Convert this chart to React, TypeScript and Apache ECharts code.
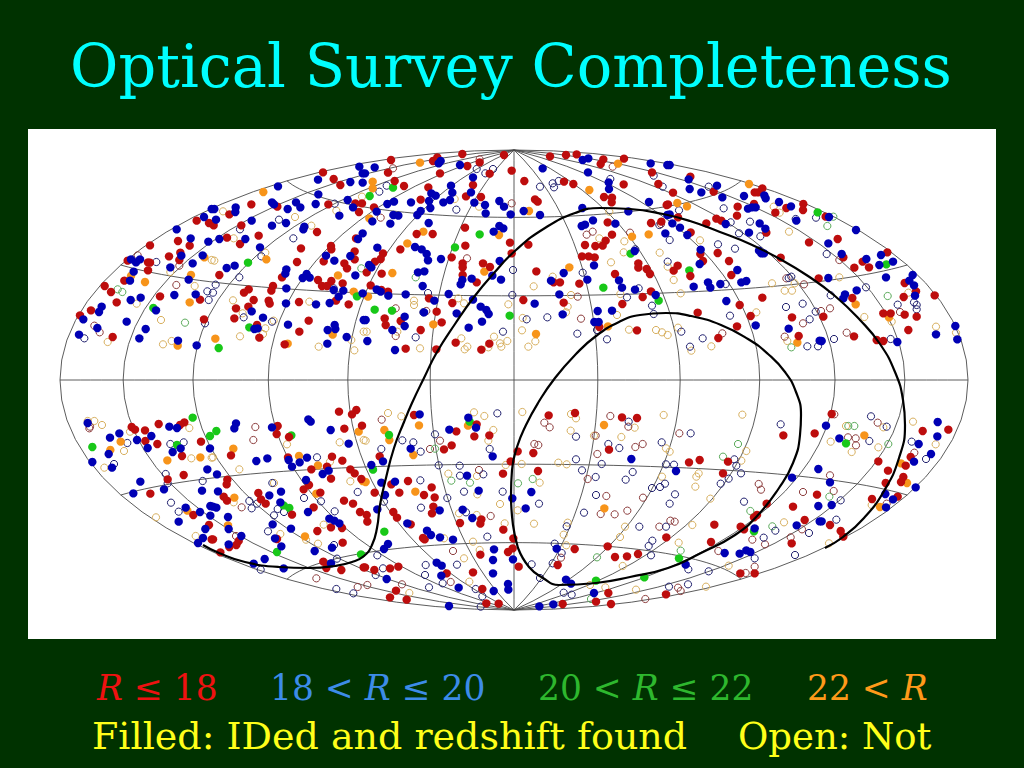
import React, { useEffect, useRef } from "react";
import * as echarts from "echarts";

type Pt = [number, number];
const at = (c: number, r: number, p: number[][]): Pt[] =>
  p.map(([x, y]) => [60 + c * 152 + x / 3, (r === 0 ? 150 : 405) + y / 3]);

const redFilled: Pt[] = [
  ...at(0,0,[[410,212],[447,219],[270,286],[354,273],[389,287],[327,319],[361,308],[358,330],[203,332],[264,337],[270,338],[264,361],[193,392],[134,408],[153,426],[170,457],[300,439],[420,449],[93,481],[60,496],[158,561],[432,508]]),
  ...at(1,0,[[333,67],[365,87],[385,105],[118,163],[196,170],[52,193],[88,226],[5,226],[45,263],[84,282],[140,257],[349,163],[430,160],[450,160],[441,186],[315,246],[267,295],[357,288],[358,298],[335,334],[428,304],[428,328],[397,340],[405,355],[255,336],[210,382],[22,375],[183,408],[178,422],[110,418],[96,428],[125,450],[170,452],[173,461],[72,475],[67,505],[109,470],[261,456],[290,512],[262,545],[318,390],[330,408],[345,408],[358,393],[392,400],[372,452],[410,463],[135,525],[142,563],[218,583],[432,265]]),
  ...at(2,0,[[81,30],[295,12],[420,15],[207,33],[220,22],[347,37],[72,68],[228,70],[310,48],[92,93],[120,108],[193,112],[327,105],[377,71],[443,62],[306,139],[351,141],[170,149],[30,172],[303,233],[158,252],[206,252],[438,278],[304,287],[109,298],[57,310],[50,327],[33,335],[263,322],[296,340],[296,352],[443,310],[357,340],[378,351],[53,371],[8,367],[296,375],[338,397],[20,406],[72,425],[195,445],[265,459],[218,485],[62,505],[65,525],[110,513],[170,540],[233,517],[275,578],[125,596],[217,598],[376,581],[352,599],[52,420]]),
  ...at(3,0,[[102,19],[150,15],[182,13],[262,28],[254,42],[324,26],[408,67],[427,102],[25,93],[144,95],[172,102],[323,103],[264,141],[288,143],[287,157],[57,148],[65,155],[452,165],[405,219],[436,215],[275,217],[37,284],[288,254],[269,272],[260,287],[238,288],[207,285],[198,319],[218,319],[236,322],[367,340],[367,353],[392,357],[402,372],[61,364],[297,372],[132,397],[113,397],[190,401],[380,441],[405,424],[319,462],[143,458],[22,450],[363,541],[250,531]]),
  ...at(4,0,[[67,80],[15,128],[0,163],[137,125],[260,127],[270,127],[283,115],[258,162],[209,170],[207,197],[322,188],[355,174],[406,162],[405,180],[30,202],[115,220],[145,206],[160,212],[68,247],[295,248],[423,277],[97,312],[149,309],[183,333],[105,333],[338,323],[29,347],[17,362],[67,378],[190,375],[452,385],[283,443],[215,465],[248,498],[89,488],[207,529],[372,502],[392,558],[151,564]]),
  ...at(5,0,[[17,200],[53,267],[202,307],[70,322],[128,335],[103,353],[147,352],[254,399],[288,424],[344,436],[251,441],[97,444],[190,490],[212,490],[254,494],[290,500],[10,500],[265,540],[102,559],[170,570],[190,573]]),
  ...at(0,1,[[215,66],[225,74],[296,57],[255,76],[256,108],[292,117],[373,52],[360,60],[423,110],[366,153],[371,210],[323,223],[271,266],[400,330],[447,360],[455,403]]),
  ...at(1,1,[[381,20],[433,15],[420,28],[197,63],[194,87],[231,96],[397,71],[450,62],[57,151],[228,157],[360,155],[391,167],[298,193],[345,185],[415,193],[428,205],[448,222],[357,221],[46,224],[44,238],[35,275],[45,287],[139,264],[147,283],[161,296],[275,253],[291,240],[325,263],[396,287],[423,296],[444,321],[305,307],[240,329],[357,367],[390,369],[316,378],[392,413],[80,408],[73,420],[52,426],[25,442],[3,403],[195,402],[334,470],[343,489],[388,495],[455,487]]),
  ...at(2,1,[[150,30],[338,58],[277,79],[331,94],[376,91],[263,121],[240,133],[47,154],[440,169],[417,206],[132,228],[82,238],[203,247],[32,263],[106,263],[180,270],[212,277],[208,305],[204,325],[88,321],[99,338],[8,330],[10,350],[352,343],[349,356],[288,354],[418,374],[177,399],[182,403],[448,400],[432,441],[446,430],[349,449],[327,502],[78,490],[103,485],[31,495],[3,487],[248,505],[96,557],[78,577],[128,584],[355,552],[367,595],[404,596],[140,358]]),
  ...at(3,1,[[98,31],[177,24],[318,37],[363,39],[5,139],[52,144],[279,134],[66,198],[176,432],[275,424],[297,456],[333,454],[366,447],[125,480],[8,485],[277,564],[240,590],[285,597],[140,597],[450,568],[451,397]]),
  ...at(4,1,[[346,91],[440,85],[63,172],[95,165],[180,170],[165,205],[447,269],[296,296],[375,305],[410,345],[267,330],[258,337],[139,359],[218,365],[228,373],[371,415],[129,411],[217,505],[260,505]]),
  ...at(5,1,[[35,27],[308,78],[385,74],[272,156],[257,182],[175,169],[204,197],[197,234],[250,216],[243,231],[233,275],[156,282],[30,360],[62,378],[70,395]]),
];

const blueFilled: Pt[] = [
  ...at(0,0,[[455,177],[432,201],[350,238],[392,265],[445,275],[364,317],[428,316],[213,328],[228,337],[240,328],[398,340],[331,352],[221,365],[210,392],[386,389],[343,435],[407,433],[212,450],[242,443],[125,470],[117,486],[70,508],[288,481],[200,515],[257,537],[238,565],[57,554],[354,572],[410,586],[112,534]]),
  ...at(1,0,[[442,50],[452,70],[318,89],[198,109],[415,96],[452,98],[319,133],[180,157],[186,163],[227,177],[252,157],[265,172],[311,162],[407,150],[423,172],[382,197],[7,177],[71,172],[70,186],[12,209],[119,212],[180,227],[222,219],[277,230],[274,238],[22,267],[100,267],[144,292],[452,250],[438,267],[342,317],[367,332],[415,318],[44,354],[68,347],[223,358],[220,371],[272,384],[284,372],[293,383],[430,376],[223,415],[222,460],[312,463],[353,459],[365,420],[380,440],[394,422],[452,430],[119,484],[153,503],[137,535],[127,537],[228,524],[347,540],[368,525],[370,537],[404,561],[346,581],[455,510]]),
  ...at(2,0,[[32,52],[230,33],[224,40],[288,45],[3,70],[327,82],[261,107],[265,128],[202,130],[215,137],[321,127],[195,153],[70,162],[90,155],[141,157],[238,157],[258,150],[331,158],[199,174],[363,165],[406,153],[420,170],[365,190],[440,193],[38,185],[88,195],[103,197],[160,195],[170,183],[79,221],[194,219],[25,214],[389,245],[406,228],[418,235],[40,293],[153,291],[173,298],[188,312],[192,331],[231,327],[407,333],[15,345],[22,352],[162,367],[181,364],[385,377],[411,389],[295,390],[290,403],[323,386],[176,408],[38,418],[50,425],[125,433],[73,437],[254,432],[211,452],[327,449],[350,470],[367,480],[374,492],[278,490],[354,515],[5,510],[122,500],[85,540],[122,528],[314,533],[10,573],[93,600],[180,487]]),
  ...at(3,0,[[200,30],[217,25],[404,40],[80,55],[216,67],[454,45],[278,97],[279,117],[399,156],[454,195],[199,174],[337,184],[72,195],[23,183],[231,211],[207,224],[197,228],[298,221],[448,250],[356,303],[234,346],[143,369],[105,392],[214,389],[309,391],[318,413],[357,419],[130,433],[419,435],[56,461],[245,483],[288,482],[140,493],[235,516],[248,516]]),
  ...at(4,0,[[5,45],[62,88],[65,117],[100,127],[147,107],[163,142],[228,138],[289,136],[293,145],[333,156],[369,169],[240,176],[252,172],[263,172],[385,212],[5,193],[173,222],[13,220],[36,233],[58,255],[275,220],[292,236],[243,248],[273,302],[280,310],[288,310],[98,299],[95,342],[208,360],[77,410],[120,397],[127,413],[157,402],[220,397],[235,393],[175,453],[263,526],[362,536],[455,572]]),
  ...at(5,0,[[27,201],[108,240],[25,280],[65,312],[183,315],[139,327],[178,345],[219,335],[25,384],[198,382],[278,375],[268,392],[282,406],[285,437],[110,421],[75,433],[70,445],[406,528],[348,553],[412,568],[232,576],[5,573]]),
  ...at(0,1,[[83,54],[150,98],[178,85],[231,105],[274,93],[263,129],[328,65],[351,69],[97,171],[146,147],[156,188],[338,141],[362,130],[450,130],[442,193],[241,230],[220,265],[312,253],[426,257],[377,308],[420,321],[451,303],[451,332],[356,350],[436,372],[429,399],[414,414]]),
  ...at(1,1,[[72,55],[67,70],[289,43],[296,50],[180,67],[356,75],[410,116],[133,168],[166,160],[230,165],[240,185],[263,172],[285,158],[15,208],[332,207],[350,197],[282,225],[18,259],[172,271],[207,260],[13,308],[3,305],[288,321],[48,336],[352,341],[367,347],[382,355],[205,292],[182,358],[237,371],[50,372],[189,400],[88,393],[208,424],[50,418],[360,428],[308,438],[158,462],[125,476],[215,490],[357,475]]),
  ...at(2,1,[[167,28],[313,38],[256,74],[336,68],[140,131],[57,169],[22,180],[386,154],[52,233],[93,230],[309,212],[63,270],[344,257],[40,313],[227,316],[296,314],[325,339],[130,355],[189,377],[201,390],[228,397],[267,404],[390,433],[445,280],[387,465],[72,417],[60,432],[447,463],[218,473],[233,482],[387,505],[68,522],[232,512],[284,548],[432,537],[433,554],[389,558],[255,603]]),
  ...at(3,1,[[46,261],[29,310],[122,431],[346,162],[150,524],[165,536],[234,564],[112,598],[70,604]]),
  ...at(4,1,[[24,198],[372,218],[451,192],[451,303],[455,349],[386,361],[260,370],[170,444],[215,446],[235,436],[247,441],[53,479]]),
  ...at(5,1,[[18,62],[353,51],[352,94],[296,117],[58,100],[333,147],[282,170],[287,247],[196,267],[219,283],[30,232],[35,300],[5,349],[198,307]]),
];

const greenFilled: Pt[] = [
  ...at(0,0,[[280,474]]),
  ...at(1,0,[[108,338],[435,439],[112,532],[20,594]]),
  ...at(2,0,[[17,138],[87,113],[347,253],[273,292],[32,479],[84,482],[437,497]]),
  ...at(3,0,[[344,311],[262,413],[428,452]]),
  ...at(4,0,[[64,361],[449,187]]),
  ...at(5,0,[[199,343]]),
  ...at(0,1,[[398,38],[97,126],[351,120],[450,93]]),
  ...at(1,1,[[13,78],[238,91],[215,301],[232,309],[195,441],[447,448]]),
  ...at(2,1,[[27,194],[317,50],[61,380],[75,90]]),
  ...at(3,1,[[240,527],[385,517]]),
  ...at(4,1,[[258,379],[33,460]]),
  ...at(5,1,[[78,115]]),
];

const orangeFilled: Pt[] = [
  ...at(0,0,[[433,322],[213,378],[255,396],[393,375],[389,457],[353,587]]),
  ...at(1,0,[[154,126],[163,328],[378,376],[425,425],[362,554],[227,581],[10,566]]),
  ...at(2,0,[[168,38],[26,95],[26,115],[16,205],[178,245],[130,280],[405,255],[85,369],[361,365],[208,523],[12,440]]),
  ...at(3,0,[[306,41],[220,120],[39,183],[398,253],[348,260],[160,352],[276,529],[60,552]]),
  ...at(4,0,[[243,102],[28,159],[57,169],[388,578]]),
  ...at(5,0,[[107,463],[207,502]]),
  ...at(0,1,[[182,110],[151,135],[322,166],[421,157],[382,317]]),
  ...at(1,1,[[64,131],[261,153],[318,181],[313,266],[67,278],[48,361],[279,394],[440,80],[452,228]]),
  ...at(2,1,[[165,61],[61,75],[76,105],[148,150],[312,62],[5,231],[154,260]]),
  ...at(3,1,[[264,60],[265,310]]),
  ...at(5,1,[[133,91],[243,175],[261,234],[180,306]]),
];

const redOpen: Pt[] = [
  ...at(0,0,[[233,316],[349,405],[103,527],[119,547],[358,347]]),
  ...at(2,0,[[87,55],[347,28],[443,160],[50,203],[309,325],[95,475],[187,483],[95,558]]),
  ...at(3,0,[[290,50],[212,254],[230,245],[342,248],[435,222],[185,440],[195,506]]),
  ...at(4,0,[[355,385],[405,520],[350,560],[163,550],[408,403]]),
  ...at(5,0,[[240,486],[30,475],[58,330],[80,548],[3,483]]),
  ...at(0,1,[[88,70],[90,65]]),
  ...at(1,1,[[130,66],[124,105],[89,307],[72,393],[313,520],[437,546]]),
  ...at(2,1,[[53,44],[228,107],[198,132],[345,195],[380,333],[267,438],[260,531],[10,540],[114,538]]),
  ...at(3,1,[[85,53],[101,67],[283,33],[337,65],[55,117],[67,120],[358,126],[380,117],[244,147],[215,222],[271,273],[381,278],[254,327],[296,328],[334,317],[430,365],[239,92],[135,458],[388,582]]),
  ...at(4,1,[[34,85],[272,237],[279,254],[405,261],[7,347],[20,350],[253,404],[291,418],[151,438],[260,485],[30,548],[368,397],[402,373],[38,558],[233,504]]),
  ...at(5,1,[[43,28],[108,121],[84,97],[107,100],[283,143],[30,211],[41,258],[200,296],[173,53]]),
];

const blueOpen: Pt[] = [
  ...at(0,0,[[289,336],[442,424],[446,450],[73,565],[435,520]]),
  ...at(1,0,[[368,161],[84,238],[201,209],[244,265],[148,319],[82,382],[11,404],[3,428],[95,502],[180,515],[365,415]]),
  ...at(2,0,[[338,57],[364,70],[387,57],[68,107],[46,125],[277,179],[192,429],[447,360],[445,435],[417,545],[155,562],[178,487]]),
  ...at(3,0,[[413,77],[283,87],[440,110],[110,100],[128,93],[114,112],[72,110],[430,225],[358,298],[455,335],[200,368],[368,415],[333,442],[408,467],[413,492],[32,508],[94,502],[184,551],[273,568],[243,540]]),
  ...at(4,0,[[122,110],[33,181],[167,175],[188,217],[213,250],[277,259],[246,215],[150,283],[201,296],[383,207],[444,203],[370,380],[362,384],[173,402],[5,270],[354,471],[404,461],[443,485],[425,508],[186,497],[40,545],[104,565],[66,590],[418,589],[450,589]]),
  ...at(5,0,[[20,312],[138,412],[32,436],[233,464],[282,457],[290,465],[290,478],[42,567],[212,567]]),
  ...at(0,1,[[202,114],[331,117],[371,112],[162,177],[317,207],[323,235],[333,293],[356,320],[428,228]]),
  ...at(1,1,[[315,157],[181,234],[276,279],[327,289],[112,288],[119,310],[135,296],[437,261],[197,312],[216,321],[186,331],[368,319],[168,379],[366,420],[375,461],[146,494],[373,552],[424,565]]),
  ...at(2,1,[[400,25],[115,106],[148,112],[213,88],[377,132],[52,132],[170,140],[224,181],[287,182],[288,212],[358,208],[169,226],[300,260],[416,260],[250,279],[171,308],[306,322],[370,395],[40,451],[57,490],[35,510],[185,480],[183,510],[279,479],[236,535],[195,547],[335,552],[355,574],[350,605],[60,290]]),
  ...at(3,1,[[338,50],[180,95],[277,117],[310,129],[437,112],[180,163],[198,196],[257,177],[239,216],[350,201],[329,224],[408,249],[432,246],[447,236],[450,178],[240,270],[69,296],[204,323],[152,364],[370,365],[116,416],[137,444],[409,407],[398,423],[405,451],[450,365],[110,475],[47,478],[72,519],[143,563],[167,569]]),
  ...at(4,1,[[68,85],[338,58],[199,163],[205,182],[219,205],[182,221],[158,236],[18,179],[21,268],[5,296],[228,290],[322,377],[287,398],[423,384],[260,460],[381,450],[61,493],[122,499],[60,538],[3,545]]),
  ...at(5,1,[[153,34],[200,65],[148,108],[275,110],[318,162],[62,286],[49,344]]),
];

const greenOpen: Pt[] = [
  ...at(0,0,[[173,418],[187,426],[375,518]]),
  ...at(1,0,[[448,355]]),
  ...at(2,0,[[155,382]]),
  ...at(4,0,[[370,592]]),
  ...at(5,0,[[22,228],[203,438],[40,200]]),
  ...at(2,1,[[213,131],[262,227],[318,233]]),
  ...at(3,1,[[50,222],[6,235],[243,457],[225,582]]),
  ...at(4,1,[[210,117],[165,155],[247,318],[313,364],[38,437]]),
  ...at(5,1,[[103,63],[205,117],[28,275],[85,63]]),
];

const tanOpen: Pt[] = [
  ...at(0,0,[[331,366],[404,408],[230,461],[303,510],[143,576],[309,583],[335,573],[455,330]]),
  ...at(1,0,[[33,184],[249,201],[298,227],[65,265],[7,332],[160,308],[63,451],[92,490],[292,455],[160,535],[84,559],[153,552],[185,512],[320,590],[427,601],[373,182],[450,140],[455,545],[418,570]]),
  ...at(2,0,[[272,147],[345,170],[150,452],[150,465],[283,445],[300,460],[433,463],[8,545],[100,545],[292,565],[390,560],[408,580],[430,573],[310,590],[302,598],[168,595],[373,592],[412,590]]),
  ...at(3,0,[[280,185],[250,265],[325,274],[323,307],[431,308],[285,337],[110,380],[53,409],[313,432],[165,435],[155,470],[150,487],[303,495],[20,504],[18,541],[58,574],[37,590],[339,539],[420,540],[438,547],[455,555],[455,350]]),
  ...at(4,0,[[363,245],[96,271],[317,170],[335,188],[17,390],[312,400],[350,422],[372,422],[380,400],[38,430],[265,487],[30,533],[130,589],[70,602],[358,573]]),
  ...at(5,0,[[58,382],[265,428],[133,501],[215,515],[348,530],[408,548]]),
  ...at(0,1,[[83,48],[103,48],[126,60],[210,80],[388,69],[192,138],[133,188],[394,160],[288,337],[407,393],[455,158]]),
  ...at(1,1,[[225,118],[82,193],[383,112],[354,170],[415,229],[186,234],[65,292],[335,359],[205,387],[318,416],[282,404],[455,105],[3,157]]),
  ...at(2,1,[[72,24],[112,34],[330,22],[361,33],[388,75],[373,107],[5,107],[253,206],[339,213],[340,268],[408,297],[285,325],[338,330],[422,355],[240,400],[327,410],[347,435],[300,460],[316,530],[136,564],[425,180]]),
  ...at(3,1,[[19,21],[165,27],[180,40],[356,68],[164,77],[234,92],[316,96],[450,130],[17,177],[127,173],[152,178],[438,215],[71,233],[5,316],[54,356],[155,353],[143,389],[327,365],[312,396],[151,421],[320,483],[268,547],[360,554],[443,30],[222,540]]),
  ...at(4,1,[[223,29],[235,138],[220,167],[92,205],[85,215],[82,245],[127,281],[5,140],[73,360],[32,413],[348,352],[182,482],[114,545]]),
  ...at(5,1,[[279,50],[78,63],[190,67],[32,110],[175,127],[95,141],[347,118],[27,415],[155,300]]),
];

const outerBoundary: Pt[] = [[203,545],[219,553],[245,562],[279,567],[309,568],[335,566],[352,562],[364,556],[372,545],[377,528],[380,505],[385,482],[394,448],[404,422],[412,403],[424,378],[437,352],[455,324],[474,297],[494,273],[516,250],[545,228],[575,213],[600,208],[630,209],[663,214],[690,221],[720,232],[750,244],[780,259],[808,276],[835,296],[860,320],[880,344],[895,372],[903,400],[905,425],[899,458],[884,491],[864,518],[843,537],[825,548]];
const innerBoundary: Pt[] = [[518,548],[529,567],[543,578],[559,585],[596,583],[630,577],[668,568],[701,553],[735,535],[758,515],[779,488],[793,463],[800,435],[801,415],[796,392],[785,372],[768,354],[748,339],[721,325],[691,316],[666,313],[640,315],[619,322],[596,336],[576,354],[555,378],[538,403],[526,425],[517,447],[512,470],[511,495],[513,525],[518,548]];

const meridianLongitudes = [-180,-150,-120,-90,-60,-30,0,30,60,90,120,150,180];
const parallelLatitudes = [-60,-30,0,30,60];

const rad = Math.PI / 180;
const hammer = (lon: number, lat: number): Pt => {
  const d = Math.sqrt(1 + Math.cos(lat * rad) * Math.cos((lon * rad) / 2));
  return [
    514 + (454 * Math.cos(lat * rad) * Math.sin((lon * rad) / 2)) / d,
    380 - (230 * Math.sin(lat * rad)) / d,
  ];
};
const steps = Array.from({ length: 73 }, (_, i) => i * 5 - 180);
const stepsLat = Array.from({ length: 37 }, (_, i) => i * 5 - 90);

const gridLine = (data: Pt[]) => ({
  type: "line", data, showSymbol: false, silent: true, z: 1,
  lineStyle: { color: "#4a4a4a", width: 0.9 },
});
const boundary = (data: Pt[]) => ({
  type: "line", data, showSymbol: false, silent: true, smooth: 0.5, z: 4,
  lineStyle: { color: "#000", width: 2.2 },
});
const filled = (data: Pt[], color: string) => ({
  type: "scatter", data, symbolSize: 8.4, silent: true, z: 3, itemStyle: { color, opacity: 1 },
});
const open = (data: Pt[], color: string) => ({
  type: "scatter", data, symbolSize: 7.2, silent: true, z: 2,
  itemStyle: { color: "rgba(255,255,255,0)", borderColor: color, borderWidth: 1, opacity: 1 },
});

const SERIF = '"DejaVu Serif", serif';
const seg = (size: number, color: string) => ({
  n: { fontFamily: SERIF, fontSize: size, fill: color, color },
  i: { fontFamily: SERIF, fontSize: size, fontStyle: "italic", fill: color, color },
});
const label = (x: number, y: number, text: string, color: string, size = 34.5) => ({
  type: "text", x, y, silent: true,
  style: { text, rich: seg(size, color), verticalAlign: "middle", align: "left" },
});

export default function App() {
  const ref = useRef<HTMLDivElement>(null);
  useEffect(() => {
    const chart = echarts.init(ref.current!, null, { renderer: "svg" });
    chart.setOption({
      animation: false,
      backgroundColor: "#003200",
      grid: { left: 28, top: 129, width: 968, height: 510, show: true, backgroundColor: "#fff", borderWidth: 0 },
      xAxis: { type: "value", min: 28, max: 996, show: false },
      yAxis: { type: "value", min: 129, max: 639, inverse: true, show: false },
      series: [
        ...meridianLongitudes.map((lon) => gridLine(stepsLat.map((lat) => hammer(lon, lat)))),
        ...parallelLatitudes.map((lat) => gridLine(steps.map((lon) => hammer(lon, lat)))),
        open(tanOpen, "#d8b060"),
        open(redOpen, "#8c3c3c"),
        open(greenOpen, "#5aaa5a"),
        open(blueOpen, "#20206e"),
        boundary(outerBoundary),
        boundary(innerBoundary),
        filled(orangeFilled, "#f7941a"),
        filled(greenFilled, "#18c818"),
        filled(redFilled, "#bd0d0d"),
        filled(blueFilled, "#0000b4"),
      ],
      graphic: [
        { type: "text", x: 511, y: 66, silent: true, style: { text: "Optical Survey Completeness", fill: "#00ffff", fontFamily: SERIF, fontSize: 59, align: "center", verticalAlign: "middle" } },
        label(97, 688, "{i|R}{n| ≤ 18}", "#ee1111"),
        label(270, 688, "{n|18 < }{i|R}{n| ≤ 20}", "#3d8ce8"),
        label(538, 688, "{n|20 < }{i|R}{n| ≤ 22}", "#2eb82e"),
        label(807, 688, "{n|22 < }{i|R}", "#ff9a1a"),
        label(92, 736, "{n|Filled: IDed and redshift found}", "#ffff1a", 38),
        label(738, 736, "{n|Open: Not}", "#ffff1a", 37),
      ],
    });
    return () => chart.dispose();
  }, []);
  return <div ref={ref} style={{ position: "fixed", left: 0, top: 0, width: 1024, height: 768 }} />;
}
